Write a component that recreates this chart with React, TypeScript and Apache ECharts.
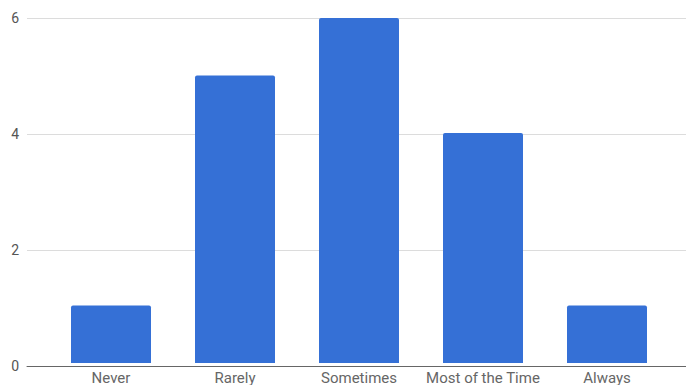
import React, { useEffect, useRef } from "react";
import * as echarts from "echarts";

const categories = ["Never", "Rarely", "Sometimes", "Most of the Time", "Always"];
const counts = [1, 5, 6, 4, 1];
const yTicks = [0, 2, 4, 6];

export default function App() {
  const ref = useRef<HTMLDivElement>(null);
  useEffect(() => {
    document.body.style.margin = "0";
    const chart = echarts.init(ref.current!, null, { renderer: "svg" });
    const yMin = yTicks[0];
    const yMax = yTicks[yTicks.length - 1];
    const step = yTicks[1] - yTicks[0];
    chart.setOption({
      animation: false,
      backgroundColor: "#ffffff",
      textStyle: { fontFamily: "Roboto, Arial, sans-serif" },
      grid: [
        { left: 27, right: 0, top: 18, bottom: 19 },
        { left: 49, right: 17, top: 18, bottom: 19 },
      ],
      xAxis: [
        {
          gridIndex: 0,
          type: "category",
          data: categories,
          axisLine: { show: true, lineStyle: { color: "#666666", width: 1 } },
          axisTick: { show: false },
          axisLabel: { show: false },
        },
        {
          gridIndex: 1,
          type: "category",
          data: categories,
          axisLine: { show: false },
          axisTick: { show: false },
          axisLabel: { color: "#666666", fontSize: 15, margin: 7, interval: 0 },
        },
      ],
      yAxis: [
        {
          gridIndex: 0,
          type: "value",
          min: yMin,
          max: yMax,
          interval: step,
          axisLine: { show: false },
          axisTick: { show: false },
          axisLabel: { color: "#555555", fontSize: 14, margin: 8 },
          splitLine: { lineStyle: { color: "#dcdcdc", width: 1 } },
        },
        {
          gridIndex: 1,
          type: "value",
          min: yMin,
          max: yMax,
          interval: step,
          show: false,
        },
      ],
      series: [
        {
          type: "bar",
          xAxisIndex: 1,
          yAxisIndex: 1,
          data: counts,
          barWidth: 80,
          itemStyle: { color: "#3570d6", borderRadius: [2, 2, 0, 0] },
          z: 1,
        },
      ],
    });
    return () => chart.dispose();
  }, []);
  return (
    <div
      ref={ref}
      style={{ position: "fixed", left: 0, top: 0, width: 686, height: 385 }}
    />
  );
}
